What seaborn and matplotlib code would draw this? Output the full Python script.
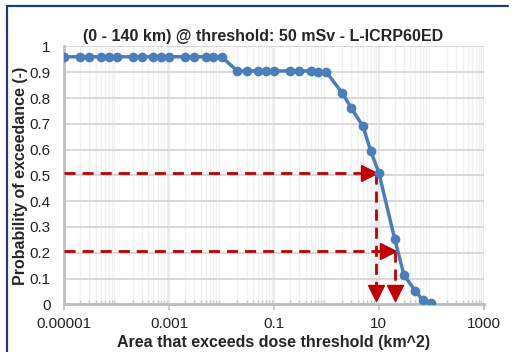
import matplotlib
matplotlib.use('Agg')
import matplotlib.pyplot as plt
import matplotlib.transforms as mtrans
from matplotlib.ticker import FixedLocator, LogLocator, NullFormatter
import pandas as pd
import seaborn as sns

# area (km^2) vs probability of exceedance
area_km2 = [0.00001, 0.00002, 0.00003, 0.00005, 0.00007,
            0.0001, 0.0002, 0.0003, 0.0005, 0.0007,
            0.001, 0.002, 0.003, 0.005, 0.007,
            0.01, 0.02, 0.03, 0.05, 0.07,
            0.1, 0.2, 0.3, 0.5, 0.7,
            1, 2, 3, 5, 7,
            10, 20, 30, 50, 70,
            100]
prob_exceed = [0.96, 0.96, 0.96, 0.96, 0.96,
               0.96, 0.96, 0.96, 0.96, 0.96,
               0.96, 0.96, 0.96, 0.96, 0.96,
               0.96, 0.905, 0.905, 0.905, 0.905,
               0.905, 0.905, 0.905, 0.905, 0.9,
               0.9, 0.82, 0.76, 0.69, 0.595,
               0.51, 0.255, 0.115, 0.05, 0.015,
               0.005]

# lectura de los percentiles (flechas rojas)
lectura_prob = [0.51, 0.205]
lectura_area = [9, 20]

xticks = [0.00001, 0.001, 0.1, 10, 1000]
xtick_labels = ['0.00001', '0.001', '0.1', '10', '1000']
yticks = [0, 0.1, 0.2, 0.3, 0.4, 0.5, 0.6, 0.7, 0.8, 0.9, 1]
ytick_labels = ['0', '0.1', '0.2', '0.3', '0.4', '0.5', '0.6', '0.7', '0.8', '0.9', '1']

azul = '#4A7EBB'
rojo = '#C00000'

sns.set_theme(style='white')
plt.rcParams['font.family'] = ['Liberation Sans', 'DejaVu Sans']

df = pd.DataFrame({'area': area_km2, 'prob': prob_exceed})

fig = plt.figure(figsize=(5.12, 3.52), dpi=100)
ax = fig.add_axes([0.1256, 0.1355, 0.8191, 0.7325])
ax.set_xscale('log')

# rejilla
ax.set_xlim(0.00001, 1000)
ax.set_ylim(0, 1)
ax.xaxis.set_major_locator(LogLocator(base=10, numticks=20))
ax.xaxis.set_minor_locator(LogLocator(base=10, subs=range(2, 10), numticks=100))
ax.xaxis.set_minor_formatter(NullFormatter())
ax.grid(True, which='major', axis='x', color='#E6E6E6', lw=1.2)
ax.grid(True, which='minor', axis='x', color='#F0F0F0', lw=1.0)
ax.grid(True, which='major', axis='y', color='#D9D9D9', lw=1.5)
ax.set_axisbelow(True)

# lineas de lectura
for p, a in zip(lectura_prob, lectura_area):
    ax.plot([0.00001, a], [p, p], color=rojo, lw=2, ls=(0, (4, 2.5)), zorder=3)
    ax.plot([a, a], [p, 0.02], color=rojo, lw=2, ls=(0, (4, 2.5)), zorder=3)
    tr_h = mtrans.offset_copy(ax.transData, fig=fig, x=-5, y=0, units='points')
    ax.plot([a], [p], marker='>', ms=11, color=rojo, transform=tr_h, zorder=4)
    tr_v = mtrans.offset_copy(ax.transData, fig=fig, x=0, y=5, units='points')
    ax.plot([a], [0.015], marker='v', ms=11, color=rojo, transform=tr_v, zorder=4)

sns.lineplot(data=df, x='area', y='prob', ax=ax, color=azul, lw=2.5,
             marker='o', markersize=7, markeredgewidth=0, sort=False,
             estimator=None, zorder=5)
ax.set_xscale('log')
ax.set_xlim(0.00001, 1000)
ax.set_ylim(0, 1)

ax.xaxis.set_major_locator(FixedLocator(xticks))
ax.set_xticks(xticks)
ax.set_xticklabels(xtick_labels)
ax.set_yticks(yticks)
ax.set_yticklabels(ytick_labels)
ax.tick_params(axis='both', labelsize=11, colors='#222222')
ax.tick_params(axis='x', which='major', direction='out', length=4, width=1.2,
               color='#BFBFBF', pad=5, bottom=True)
ax.tick_params(axis='x', which='minor', direction='in', length=3, width=1,
               color='#C8C8C8', bottom=True)
ax.tick_params(axis='y', length=0, pad=10)

for lado in ['top', 'right']:
    ax.spines[lado].set_visible(False)
for lado in ['left', 'bottom']:
    ax.spines[lado].set_color('#BFBFBF')
    ax.spines[lado].set_linewidth(2)

ax.set_title('(0 - 140 km) @ threshold: 50 mSv - L-ICRP60ED',
             fontsize=11.5, fontweight='bold', pad=4, x=0.474)
ax.set_xlabel('Area that exceeds dose threshold (km^2)', fontsize=11.5,
              fontweight='bold', labelpad=3)
ax.set_ylabel('Probability of exceedance (-)', fontsize=11.5, fontweight='bold')
ax.yaxis.set_label_coords(-0.087, 0.5)

# marco del grafico
fig.add_artist(plt.Line2D([7 / 512, 508 / 512], [1 - 6 / 352, 1 - 6 / 352],
                          transform=fig.transFigure, color='#1F3A6E', lw=1.6))
fig.add_artist(plt.Line2D([7 / 512, 7 / 512], [0, 1 - 6 / 352],
                          transform=fig.transFigure, color='#1F3A6E', lw=1.6))

fig.savefig('out.png', dpi=100)
